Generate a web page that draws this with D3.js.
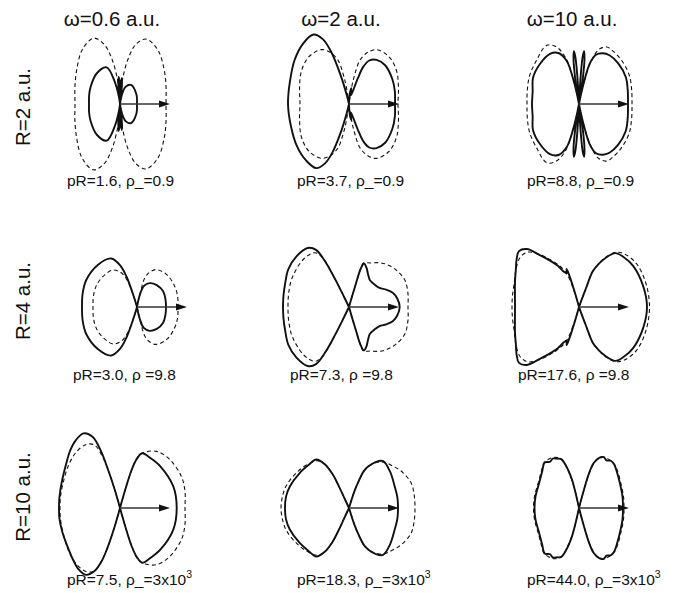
<!DOCTYPE html>
<html>
<head>
<meta charset="utf-8">
<script src="https://cdn.jsdelivr.net/npm/d3@7"></script>
<style>
  body { margin: 0; background: #fff; }
  text { font-family: "Liberation Sans", Arial, Helvetica, sans-serif; fill: #111; }
</style>
</head>
<body>
<svg id="chart" width="679" height="593"></svg>
<script>
// Column / row parameters and panel annotations
const omegas = ["0.6", "2", "10"];
const distances = ["2", "4", "10"];
const pRValues = [["1.6", "3.7", "8.8"], ["3.0", "7.3", "17.6"], ["7.5", "18.3", "44.0"]];
const rhoSub = ["_", " ", "_"];
const rhoBase = ["0.9", "9.8", "3x10"];
const rhoExp = ["", "", "3"];

// Angular distributions: [angle in degrees from the field axis, yield] over the upper half-plane;
// the lower half mirrors it unless a separate lower-half list is given
const full_R2_w06 = [[0,17],[30,19],[60,22],[72,18],[78,10],[82,0],[84,18],[86,26],[87.5,20],[88.5,0],[91,22],[93,27],[95,18],[96.5,0],[99,8],[103,22],[110,39],[127,38.5],[150,34],[165,32],[180,31]];
const atom_R2_w06 = [[0,46],[20,49],[38,56],[55,66],[68,70],[75,62],[80,45],[84,25],[87,10],[90,0],[93,10],[96,25],[100,45],[105,62],[112,71],[125,66],[142,55],[160,48],[180,45]];

const full_R2_w2 = [[0,46],[15,47.5],[30,50],[47,53],[58,52],[65,48],[69,40],[71,27],[74,12],[78,9],[82,16],[86,10],[90,0],[104,9],[106,28],[109,56],[112,70],[117,78],[127,76],[141,70],[160,63],[180,61]];
const full_R2_w2_lower = [[0,46],[15,47.5],[30,50],[47,53],[58,52],[65,48],[69,40],[71,27],[74,12],[78,9],[82,16],[86,10],[90,0],[104,9],[106,28],[109,52],[112,64],[117,72],[127,71],[141,67],[160,62],[180,61]];
const atom_R2_w2 = [[0,49],[18,52],[35,58],[50,62],[63,61],[70,55],[76,45],[79,30],[81,17],[90,0],[99,17],[101,30],[104,45],[110,55],[117,61],[130,62],[145,58],[162,52],[180,49]];

const full_R2_w10 = [[0,49],[15,50.5],[30,54],[46,56.5],[58,57.5],[65,56],[71,52],[75,42],[77,25],[78.5,10],[80,0],[81.5,25],[83,45],[84.5,53],[85.5,48],[86.5,30],[87.5,0],[92.5,0],[93.5,30],[94.5,48],[95.5,53],[97,45],[98.5,25],[100,0],[101.5,10],[103,25],[106,45],[112,55],[120,58],[134,56],[150,53],[165,48],[180,47]];
const atom_R2_w10 = [[0,53],[15,54.5],[30,58],[46,61],[58,63],[64,63.5],[70,58],[74,45],[77,25],[80,8],[90,0],[100,8],[103,25],[106,48],[112,62],[119,67],[134,61],[150,57],[165,53.5],[180,52]];

const full_R4_w06 = [[0,29],[15,29.5],[31,30.5],[48,29.5],[62,27],[72,22],[77,12],[90,0],[107,11],[109,32],[112,45],[118,55],[133,57.5],[152,57.5],[166,56],[180,55]];
const atom_R4_w06 = [[0,41],[15,42],[29,43],[47,44],[63,42],[70,37],[75,30],[77,12],[90,0],[107,11],[110,28],[115,38],[123,44],[135,45.5],[150,46],[165,45],[180,44]];

const full_R4_w2 = [[0,50.7],[10,49],[18,46],[25,41],[32,36],[42,34],[52,34],[60,38],[66,43],[71,46],[73,40],[73.5,25],[74,10],[90,0],[116,12],[116.5,30],[117.5,50],[120,66],[125,72],[136,73],[148,71.5],[160,68],[170,66.5],[180,66]];
const atom_R4_w2 = [[0,59],[13,60.5],[26,62],[38,60],[48,57],[55,54],[64,49],[72,46],[73,40],[73.5,25],[74,10],[90,0],[116,15],[116.5,35],[118,55],[122,64],[133,66],[152,64],[166,62],[180,61]];

const full_R4_w10 = [[0,68],[18,67.5],[37,68],[48,67],[56,65],[62,55],[66,46],[69,38],[69.5,20],[70,10],[90,0],[106,15],[107,32],[108,40],[110,36],[113,38],[117,46],[121,53],[127,65],[132,78],[137,82],[142,79],[150,73],[158,69],[168,65.5],[180,64]];
const atom_R4_w10 = [[0,70.5],[20,71],[37,72],[49,70],[56,66],[62,56],[66,46],[69,38],[69.5,20],[70,10],[90,0],[107,15],[110,35],[115,45],[121,55],[127,66],[133,75],[140,77],[150,73],[160,69],[170,67.5],[180,67]];

const full_R10_w06 = [[0,56.7],[22,57.5],[46,58],[59,58.5],[68,59],[71,52],[73,40],[74,20],[90,0],[106,19],[107.5,44],[108.5,60],[111,76],[116,83],[123,81],[131,76],[140,70],[157,63.5],[170,61.5],[180,61]];
const full_R10_w06_lower = [[0,56.7],[22,57.5],[46,58],[59,58.5],[68,59],[71,52],[73,40],[74,20],[90,0],[106,19],[107.5,42],[109,56],[112,68],[117,75],[124,74],[132,70],[141,66],[157,62.5],[170,61.5],[180,61]];
const atom_R10_w06 = [[0,65],[14,67],[27,69],[45,69.5],[57,67.5],[65,62],[70,56],[72,50],[73,38],[74,20],[90,0],[106,19],[107.5,42],[109,55],[112,68],[118,72],[128,71],[140,67],[157,62],[170,60.5],[180,60]];

const full_R10_w2 = [[0,49],[12,49.5],[25,50.5],[42,55],[54,58],[60,53],[65,46],[68,40],[70,30],[72,18],[90,0],[115,12],[115,25],[116,38],[119,50],[124,58.5],[133,59],[145,60.5],[160,63],[170,64],[180,64]];
const atom_R10_w2 = [[0,66],[12,66.5],[22,67],[35,64],[44,60.5],[52,58],[58,54],[64,47],[68,40],[70,30],[72,18],[90,0],[115,12],[115,25],[116,38],[119,50],[124,57],[133,60],[145,63],[160,66.5],[170,67.5],[180,68]];

const full_R10_w10 = [[0,44],[15,45],[32,48],[44,52.5],[51,56],[56,57],[60,55],[64,56.5],[68,54],[72,47],[74,35],[75,15],[90,0],[103,19],[104,30],[107,44],[110,52],[114,54],[118,56],[122,54.5],[127,57],[135,52],[148,47],[165,45],[180,44.5]];
const atom_R10_w10 = [[0,45],[15,46],[32,49],[44,53.5],[52,56.5],[60,57],[66,56],[70,51],[73,40],[75,15],[90,0],[103,19],[106,38],[110,52],[116,56.5],[122,57.5],[128,57],[135,53],[148,48],[165,46],[180,45.5]];

const fullCurves = [
  [[full_R2_w06], [full_R2_w2, full_R2_w2_lower], [full_R2_w10]],
  [[full_R4_w06], [full_R4_w2], [full_R4_w10]],
  [[full_R10_w06, full_R10_w06_lower], [full_R10_w2], [full_R10_w10]]
];
const atomCurves = [
  [[atom_R2_w06], [atom_R2_w2], [atom_R2_w10]],
  [[atom_R4_w06], [atom_R4_w2], [atom_R4_w10]],
  [[atom_R10_w06], [atom_R10_w2], [atom_R10_w10]]
];

// Panel layout
const origins = [
  [[120, 104], [349, 104], [579, 104]],
  [[137, 307], [349, 307], [579, 307]],
  [[120, 508], [349, 508], [579, 508]]
];
const labelX = [[67, 297, 527], [73, 290, 518], [67, 297, 527]];
const labelY = [186, 380, 585];
const titleX = [112, 341, 572];
const rowLabelY = [107, 301, 497];

const svg = d3.select("#chart");

const rScale = d3.scaleLinear().domain([0, 100]).range([0, 100]);
const arrowLen = 50;

const radial = d3.lineRadial()
  .angle(d => Math.PI / 2 - d[0] * Math.PI / 180)
  .radius(d => rScale(d[1]));

// Join the upper half and the (mirrored) lower half into one closed loop
function fullLoop(upper, lower) {
  const low = (lower || upper).slice(1, -1).reverse().map(([a, r]) => [360 - a, r]);
  return upper.concat(low);
}

// Split the loop at zero-yield points so the lobes cross at the origin
function segments(loop) {
  const zeros = loop.map((d, i) => d[1] === 0 ? i : -1).filter(i => i >= 0);
  if (!zeros.length) return { closed: true, segs: [loop] };
  const start = zeros[0];
  const rot = loop.slice(start).concat(loop.slice(0, start));
  rot.push(rot[0]);
  const segs = [];
  let cur = [rot[0]];
  for (let i = 1; i < rot.length; i++) {
    cur.push(rot[i]);
    if (rot[i][1] === 0) {
      if (cur.some(d => d[1] > 0)) segs.push(cur);
      cur = [rot[i]];
    }
  }
  return { closed: false, segs };
}

function drawCurve(g, halves, style) {
  const { closed, segs } = segments(fullLoop(halves[0], halves[1]));
  const gen = radial.curve(closed ? d3.curveCatmullRomClosed.alpha(0.5) : d3.curveCatmullRom.alpha(0.5));
  const d = segs.map(s => gen(s)).join("");
  g.append("path")
    .attr("d", d)
    .attr("fill", "none")
    .attr("stroke", "#111")
    .attr("stroke-width", style.width)
    .attr("stroke-dasharray", style.dash)
    .attr("stroke-linejoin", "round");
}

for (let row = 0; row < 3; row++) {
  for (let col = 0; col < 3; col++) {
    const [ox, oy] = origins[row][col];
    const g = svg.append("g").attr("transform", `translate(${ox},${oy})`);
    drawCurve(g, atomCurves[row][col], { width: 1.1, dash: "4,3" });
    drawCurve(g, fullCurves[row][col], { width: 1.9, dash: null });

    // field direction arrow
    g.append("line")
      .attr("x1", 0).attr("y1", 0)
      .attr("x2", arrowLen - 8).attr("y2", 0)
      .attr("stroke", "#333").attr("stroke-width", 1.3);
    g.append("path")
      .attr("d", `M${arrowLen},0 L${arrowLen - 11},-3.6 L${arrowLen - 11},3.6 Z`)
      .attr("fill", "#111");

    // pR / rho annotation
    const t = svg.append("text")
      .attr("x", labelX[row][col]).attr("y", labelY[row])
      .attr("font-size", 15.5);
    t.append("tspan").text(`pR=${pRValues[row][col]}, ρ${rhoSub[row]}=${rhoBase[row]}`);
    if (rhoExp[row]) {
      t.append("tspan").attr("font-size", 10.5).attr("dy", -7).text(rhoExp[row]);
    }
  }
}

// column titles
omegas.forEach((w, i) => {
  svg.append("text")
    .attr("x", titleX[i]).attr("y", 26)
    .attr("text-anchor", "middle")
    .attr("font-size", 20.5)
    .text(`ω=${w} a.u.`);
});

// row titles
distances.forEach((R, i) => {
  svg.append("text")
    .attr("transform", `translate(30,${rowLabelY[i]}) rotate(-90)`)
    .attr("text-anchor", "middle")
    .attr("font-size", 20.5)
    .text(`R=${R} a.u.`);
});
</script>
</body>
</html>
